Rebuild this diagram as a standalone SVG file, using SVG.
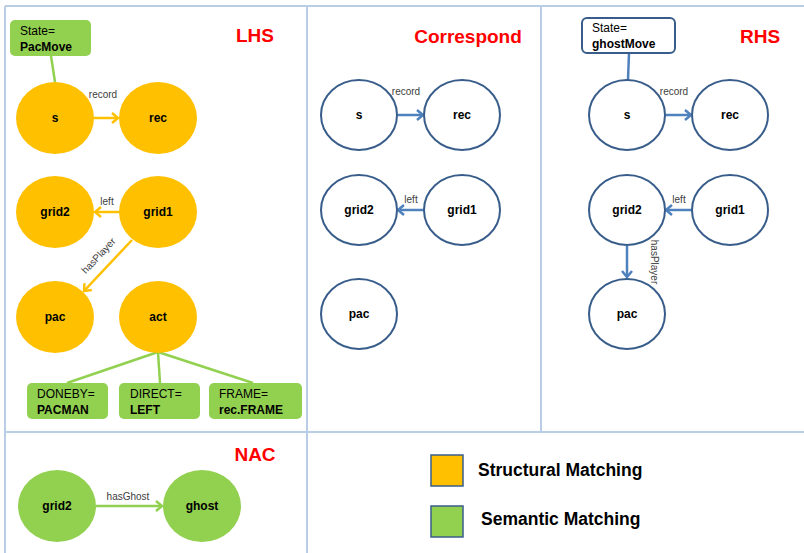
<svg xmlns="http://www.w3.org/2000/svg" width="804" height="553" viewBox="0 0 804 553">
<defs>
<marker id="aO" markerUnits="userSpaceOnUse" markerWidth="12" markerHeight="14" refX="8" refY="6" orient="auto"><path d="M2,1 L8,6 L2,11" fill="none" stroke="#FFC000" stroke-width="2.5"/></marker>
<marker id="aB" markerUnits="userSpaceOnUse" markerWidth="12" markerHeight="14" refX="8" refY="6" orient="auto"><path d="M2,1 L8,6 L2,11" fill="none" stroke="#4F81BD" stroke-width="2.5"/></marker>
<marker id="aG" markerUnits="userSpaceOnUse" markerWidth="12" markerHeight="14" refX="8" refY="6" orient="auto"><path d="M2,1 L8,6 L2,11" fill="none" stroke="#92D050" stroke-width="2.5"/></marker>
</defs>
<style>
.grid{stroke:#B9CDE5;stroke-width:2;fill:none}
.on{fill:#FFC000}
.gn{fill:#92D050}
.bn{fill:#FFFFFF;stroke:#385D8A;stroke-width:2}
.nl{font-family:"Liberation Sans",Arial,sans-serif;font-size:12px;font-weight:bold;fill:#000;text-anchor:middle}
.el{font-family:"Liberation Sans",Arial,sans-serif;font-size:10px;fill:#404040;text-anchor:middle}
.tt{font-family:"Liberation Sans",Arial,sans-serif;font-size:19px;font-weight:bold;fill:#FF0000;text-anchor:middle}
.bt{font-family:"Liberation Sans",Arial,sans-serif;font-size:12px;fill:#000}
.bb{font-family:"Liberation Sans",Arial,sans-serif;font-size:12px;font-weight:bold;fill:#000}
.lg{font-family:"Liberation Sans",Arial,sans-serif;font-size:17.5px;font-weight:bold;fill:#000}
.eo{stroke:#FFC000;stroke-width:2.5;fill:none;marker-end:url(#aO)}
.eb{stroke:#4F81BD;stroke-width:2.5;fill:none;marker-end:url(#aB)}
.eg{stroke:#92D050;stroke-width:2.5;fill:none;marker-end:url(#aG)}
.lgl{stroke:#92D050;stroke-width:2.5;fill:none}
.lbl{stroke:#4F81BD;stroke-width:2.5;fill:none}
</style>
<rect width="804" height="553" fill="#FFFFFF"/>
<g id="frame">
<line class="grid" x1="5" y1="6" x2="804" y2="6"/>
<line class="grid" x1="5" y1="6" x2="5" y2="553"/>
<line class="grid" x1="307" y1="6" x2="307" y2="553"/>
<line class="grid" x1="541" y1="6" x2="541" y2="432"/>
<line class="grid" x1="5" y1="432" x2="804" y2="432"/>
</g>
<g id="titles">
<text class="tt" x="255" y="42">LHS</text>
<text class="tt" x="468" y="43">Correspond</text>
<text class="tt" x="760" y="43">RHS</text>
<text class="tt" x="255" y="461">NAC</text>
</g>
<g id="connectors">
<line class="lgl" x1="51" y1="56" x2="55" y2="82"/>
<line class="eo" x1="94" y1="118" x2="118" y2="118"/>
<line class="eo" x1="119" y1="212" x2="95" y2="212"/>
<line class="eo" x1="132" y1="240" x2="84" y2="291"/>
<line class="lgl" x1="158" y1="352" x2="67" y2="383"/>
<line class="lgl" x1="158" y1="352" x2="160" y2="383"/>
<line class="lgl" x1="158" y1="352" x2="253" y2="383"/>
<line class="eb" x1="397" y1="115" x2="423" y2="115"/>
<line class="eb" x1="424" y1="210" x2="398" y2="210"/>
<line class="lbl" x1="629" y1="53" x2="628" y2="80"/>
<line class="eb" x1="665" y1="115" x2="691" y2="115"/>
<line class="eb" x1="692" y1="210" x2="666" y2="210"/>
<line class="eb" x1="627" y1="246" x2="627" y2="277"/>
<line class="eg" x1="96" y1="506" x2="162" y2="506"/>
<text class="el" x="103" y="98">record</text>
<text class="el" x="107" y="205">left</text>
<text class="el" transform="translate(101,258) rotate(-47)">hasPlayer</text>
<text class="el" x="406" y="95">record</text>
<text class="el" x="411" y="203">left</text>
<text class="el" x="674" y="95">record</text>
<text class="el" x="679" y="203">left</text>
<text class="el" transform="translate(651,262) rotate(90)">hasPlayer</text>
<text class="el" x="128" y="500">hasGhost</text>
</g>
<g id="lhs-state"><rect class="gn" x="10" y="20" width="81" height="36" rx="5"/><text class="bt" x="20" y="35">State=</text><text class="bb" x="20" y="51">PacMove</text></g>
<g id="lhs-s"><ellipse class="on" cx="55" cy="118" rx="39" ry="36"/><text class="nl" x="55" y="122">s</text></g>
<g id="lhs-rec"><ellipse class="on" cx="158" cy="118" rx="39" ry="36"/><text class="nl" x="158" y="122">rec</text></g>
<g id="lhs-grid2"><ellipse class="on" cx="55" cy="212" rx="39" ry="36"/><text class="nl" x="55" y="216">grid2</text></g>
<g id="lhs-grid1"><ellipse class="on" cx="158" cy="212" rx="39" ry="36"/><text class="nl" x="158" y="216">grid1</text></g>
<g id="lhs-pac"><ellipse class="on" cx="55" cy="317" rx="39" ry="36"/><text class="nl" x="55" y="321">pac</text></g>
<g id="lhs-act"><ellipse class="on" cx="158" cy="317" rx="39" ry="36"/><text class="nl" x="158" y="321">act</text></g>
<g id="attr-doneby"><rect class="gn" x="27" y="383" width="81" height="36" rx="5"/><text class="bt" x="37" y="398">DONEBY=</text><text class="bb" x="37" y="414">PACMAN</text></g>
<g id="attr-direct"><rect class="gn" x="119" y="383" width="81" height="36" rx="5"/><text class="bt" x="130" y="398">DIRECT=</text><text class="bb" x="130" y="414">LEFT</text></g>
<g id="attr-frame"><rect class="gn" x="209" y="383" width="93" height="36" rx="5"/><text class="bt" x="219" y="398">FRAME=</text><text class="bb" x="219" y="414">rec.FRAME</text></g>
<g id="cor-s"><ellipse class="bn" cx="359" cy="115" rx="38" ry="35"/><text class="nl" x="359" y="119">s</text></g>
<g id="cor-rec"><ellipse class="bn" cx="462" cy="115" rx="38" ry="35"/><text class="nl" x="462" y="119">rec</text></g>
<g id="cor-grid2"><ellipse class="bn" cx="359" cy="210" rx="38" ry="35"/><text class="nl" x="359" y="214">grid2</text></g>
<g id="cor-grid1"><ellipse class="bn" cx="462" cy="210" rx="38" ry="35"/><text class="nl" x="462" y="214">grid1</text></g>
<g id="cor-pac"><ellipse class="bn" cx="359" cy="314" rx="38" ry="35"/><text class="nl" x="359" y="318">pac</text></g>
<g id="rhs-state"><rect class="bn" x="582" y="18" width="93" height="35" rx="5"/><text class="bt" x="592" y="32">State=</text><text class="bb" x="592" y="48">ghostMove</text></g>
<g id="rhs-s"><ellipse class="bn" cx="627" cy="115" rx="38" ry="35"/><text class="nl" x="627" y="119">s</text></g>
<g id="rhs-rec"><ellipse class="bn" cx="730" cy="115" rx="38" ry="35"/><text class="nl" x="730" y="119">rec</text></g>
<g id="rhs-grid2"><ellipse class="bn" cx="627" cy="210" rx="38" ry="35"/><text class="nl" x="627" y="214">grid2</text></g>
<g id="rhs-grid1"><ellipse class="bn" cx="730" cy="210" rx="38" ry="35"/><text class="nl" x="730" y="214">grid1</text></g>
<g id="rhs-pac"><ellipse class="bn" cx="627" cy="314" rx="38" ry="35"/><text class="nl" x="627" y="318">pac</text></g>
<g id="nac-grid2"><ellipse class="gn" cx="57" cy="506" rx="39" ry="36"/><text class="nl" x="57" y="510">grid2</text></g>
<g id="nac-ghost"><ellipse class="gn" cx="202" cy="506" rx="39" ry="36"/><text class="nl" x="202" y="510">ghost</text></g>
<g id="legend">
<rect x="431" y="455" width="32" height="31" fill="#FFC000" stroke="#385D8A" stroke-width="1.5"/>
<text class="lg" x="478" y="476">Structural Matching</text>
<rect x="431" y="506" width="32" height="31" fill="#92D050" stroke="#385D8A" stroke-width="1.5"/>
<text class="lg" x="481" y="525">Semantic Matching</text>
</g>
</svg>
